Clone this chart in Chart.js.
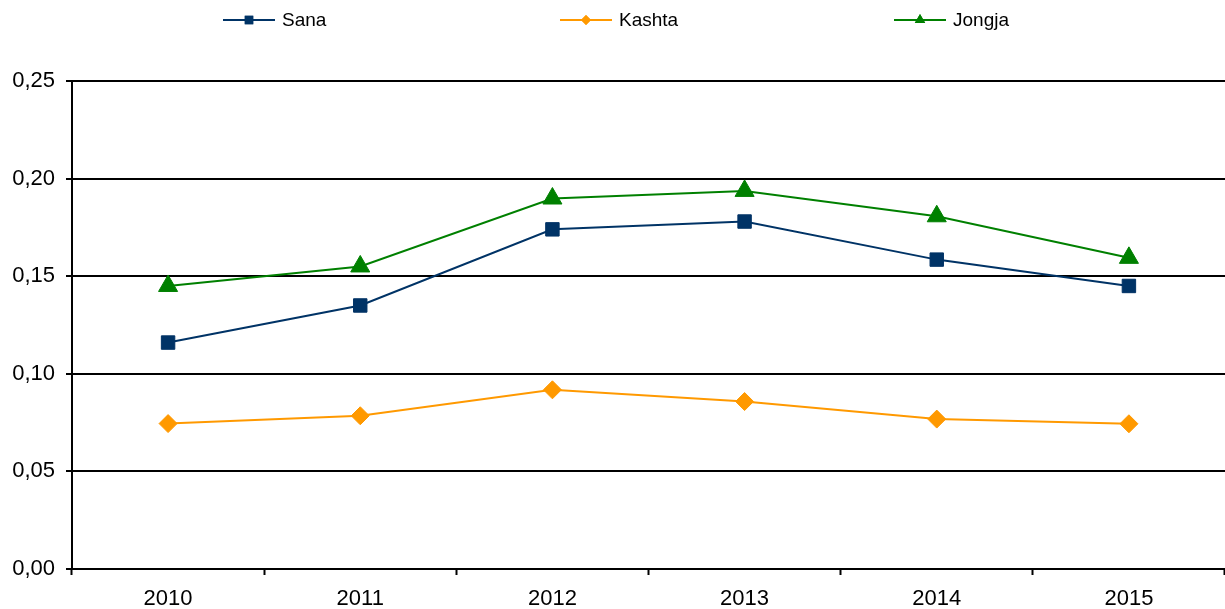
<!DOCTYPE html>
<html>
<head>
<meta charset="utf-8">
<script src="https://cdn.jsdelivr.net/npm/chart.js@4/dist/chart.umd.min.js"></script>
<style>
    html, body { margin: 0; padding: 0; background: #fff; }
    #wrap { width: 1225px; height: 609px; }
</style>
</head>
<body>
<div id="wrap"><canvas id="grafico" width="1225" height="609"></canvas></div>
<script>
//DATOS
const years = ['2010', '2011', '2012', '2013', '2014', '2015'];
const sana = [0.116, 0.135, 0.174, 0.178, 0.1585, 0.145];
const kashta = [0.0745, 0.0785, 0.0918, 0.0858, 0.0768, 0.0744];
const jongja = [0.145, 0.155, 0.1898, 0.1937, 0.1807, 0.1594];

//COLORES
const navy = '#003366';
const orange = '#FF9900';
const green = '#008000';

//LEYENDA (linea + marcador + texto)
const legendX = [223, 560, 894];
const legendPlugin = {
    id: 'lineLegend',
    afterDraw(chart) {
        const ctx = chart.ctx;
        ctx.save();
        chart.data.datasets.forEach((ds, i) => {
            const x0 = legendX[i];
            const y = 20;
            ctx.strokeStyle = ds.borderColor;
            ctx.lineWidth = 2;
            ctx.beginPath();
            ctx.moveTo(x0, y);
            ctx.lineTo(x0 + 52, y);
            ctx.stroke();
            ctx.fillStyle = ds.borderColor;
            Chart.helpers.drawPoint(ctx, {
                pointStyle: ds.pointStyle,
                radius: ds.legendRadius,
                rotation: 0,
                borderWidth: 0
            }, x0 + 26, y);
            ctx.fill();
            ctx.fillStyle = '#000';
            ctx.font = '19px "Liberation Sans", Arial, sans-serif';
            ctx.textBaseline = 'middle';
            ctx.textAlign = 'left';
            ctx.fillText(ds.label, x0 + 59, y + 1);
        });
        ctx.restore();
    }
};

const tickFont = { family: '"Liberation Sans", Arial, sans-serif', size: 22 };

new Chart(document.getElementById('grafico').getContext('2d'), {
    type: 'line',
    plugins: [legendPlugin],
    data: {
        labels: years,
        datasets: [
            {
                label: 'Sana',
                data: sana,
                borderColor: navy,
                backgroundColor: navy,
                borderWidth: 2,
                pointStyle: 'rect',
                pointRadius: 9.5,
                pointBorderWidth: 1,
                legendRadius: 6,
                tension: 0
            },
            {
                label: 'Kashta',
                data: kashta,
                borderColor: orange,
                backgroundColor: orange,
                borderWidth: 2,
                pointStyle: 'rectRot',
                pointRadius: 9,
                pointBorderWidth: 1,
                legendRadius: 5,
                tension: 0
            },
            {
                label: 'Jongja',
                data: jongja,
                borderColor: green,
                backgroundColor: green,
                borderWidth: 2,
                pointStyle: 'triangle',
                pointRadius: 11,
                pointBorderWidth: 1,
                legendRadius: 6,
                tension: 0
            }
        ]
    },
    options: {
        responsive: false,
        animation: false,
        layout: { autoPadding: false, padding: { top: 81, right: 0, bottom: 0, left: 0 } },
        plugins: {
            legend: { display: false },
            tooltip: { enabled: false },
            title: { display: false }
        },
        scales: {
            x: {
                type: 'category',
                offset: true,
                grid: {
                    offset: true,
                    drawOnChartArea: false,
                    tickLength: 6,
                    tickColor: '#000',
                    tickWidth: 2
                },
                border: { display: true, color: '#000', width: 2 },
                ticks: { color: '#000', font: tickFont, padding: 11, maxRotation: 0 },
                afterFit: (scale) => {
                    scale.height = 40;
                    scale.paddingLeft = 0;
                    scale.paddingRight = 0;
                }
            },
            y: {
                min: 0,
                max: 0.25,
                grid: {
                    color: '#000',
                    lineWidth: 2,
                    tickLength: 6,
                    tickColor: '#000'
                },
                border: { display: true, color: '#000', width: 2 },
                ticks: {
                    stepSize: 0.05,
                    color: '#000',
                    font: tickFont,
                    padding: 11,
                    callback: (v) => v.toFixed(2).replace('.', ',')
                },
                afterFit: (scale) => { scale.width = 72; }
            }
        }
    }
});
</script>
</body>
</html>
